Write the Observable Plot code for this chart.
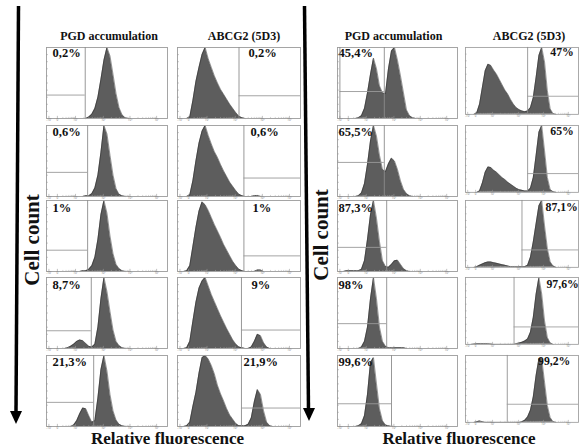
<!DOCTYPE html>
<html><head><meta charset="utf-8">
<script src="https://cdn.jsdelivr.net/npm/d3@7"></script>
<script src="https://cdn.jsdelivr.net/npm/@observablehq/plot@0.6"></script>
<style>
html,body{margin:0;padding:0;background:#fff;}
body{width:579px;height:448px;overflow:hidden;}
#root{position:relative;width:579px;height:448px;overflow:hidden;font-family:"Liberation Serif","Times New Roman",serif;}
.panel{position:absolute;}
.panel svg{overflow:visible;}
#overlay{position:absolute;left:0;top:0;}
.serif{font-family:"Liberation Serif","Times New Roman",serif;}
</style></head><body><div id="root"></div>
<script>
// ---------- DATA (fluorescence channel 0-100, relative cell count 0-100) ----------
// Left group: decreasing PGD accumulation / increasing ABCG2
const pgdL1 = [[32.5,0],[35,2],[37.5,6],[40,14],[42.5,30],[45,55],[47.5,82],[50,100],[52.5,88],[55,62],[57.5,35],[60,15],[62.5,5],[65,1],[67.5,0]];
const pgdL2 = [[30,0],[32.5,1],[35,1],[37.5,4],[40,12],[42.5,30],[45,62],[47.5,100],[50,88],[52.5,58],[55,30],[57.5,11],[60,3],[62.5,1],[65,0]];
const pgdL3 = [[27.5,0],[30,1],[32.5,1],[35,3],[37.5,8],[40,20],[42.5,45],[45,80],[47.5,100],[50,82],[52.5,50],[55,25],[57.5,10],[60,4],[62.5,1],[65,0]];
const pgdL4 = [[15,0],[17.5,1],[20,3],[22.5,6],[25,10],[27.5,12],[30,11],[32.5,7],[35,3],[37.5,2],[40,6],[42.5,30],[45,70],[47.5,100],[50,80],[52.5,52],[55,26],[57.5,10],[60,4],[62.5,1],[65,0]];
const pgdL5 = [[20,0],[22.5,2],[25,8],[27.5,18],[30,26],[32.5,25],[35,15],[37.5,6],[40,8],[42.5,40],[45,80],[47.5,100],[50,78],[52.5,45],[55,22],[57.5,9],[60,3],[62.5,1],[65,0]];

const abcL1 = [[7.5,0],[10,2],[12.5,25],[15,52],[17.5,72],[20,90],[22.5,100],[25,84],[27.5,72],[30,60],[32.5,50],[35,41],[37.5,34],[40,27],[42.5,20],[45,14],[47.5,8],[50,3],[52.5,1],[55,0]];
const abcL2 = [[7.5,0],[10,2],[12.5,22],[15,50],[17.5,75],[20,92],[22.5,100],[25,86],[27.5,74],[30,63],[32.5,55],[35,45],[37.5,36],[40,28],[42.5,20],[45,14],[47.5,8],[50,3],[52.5,1],[55,0],[60,0],[62.5,1],[65,1.5],[67.5,0]];
const abcL3 = [[5,0],[7.5,1],[10,8],[12.5,35],[15,62],[17.5,85],[20,98],[22.5,94],[25,86],[27.5,76],[30,66],[32.5,57],[35,48],[37.5,38],[40,30],[42.5,22],[45,14],[47.5,8],[50,3],[52.5,1],[55,0],[62.5,0],[65,2],[67.5,2],[70,0]];
const abcL4 = [[5,0],[7.5,1],[10,10],[12.5,38],[15,65],[17.5,85],[20,95],[22.5,100],[25,88],[27.5,76],[30,66],[32.5,56],[35,46],[37.5,37],[40,28],[42.5,20],[45,12],[47.5,6],[50,2],[52.5,1],[55,0],[57.5,0],[60,2],[62.5,10],[65,20],[67.5,18],[70,8],[72.5,2],[75,0]];
const abcL5 = [[5,0],[7.5,1],[10,6],[12.5,28],[15,48],[17.5,75],[20,97],[22.5,100],[25,95],[27.5,86],[30,74],[32.5,58],[35,46],[37.5,36],[40,25],[42.5,16],[45,10],[47.5,4],[50,1],[52.5,1],[55,1],[57.5,3],[60,12],[62.5,35],[65,52],[67.5,45],[70,22],[72.5,6],[75,1],[77.5,0]];

// Right group
const pgdR1 = [[15,0],[17.5,1],[20,4],[22.5,14],[25,36],[27.5,62],[30,85],[32.5,70],[35,46],[37.5,36],[40,35],[42.5,70],[45,95],[47.5,100],[50,82],[52.5,60],[55,36],[57.5,12],[60,4],[62.5,1],[65,0]];
const pgdR2 = [[15,0],[17.5,1],[20,5],[22.5,18],[25,45],[27.5,78],[30,100],[32.5,85],[35,58],[37.5,38],[40,35],[42.5,46],[45,54],[47.5,50],[50,38],[52.5,22],[55,10],[57.5,4],[60,1],[62.5,0]];
const pgdR3 = [[5,0],[7.5,1],[15,1],[17.5,1],[20,3],[22.5,15],[25,45],[27.5,80],[30,100],[32.5,75],[35,42],[37.5,15],[40,7],[42.5,6],[45,10],[47.5,15],[50,16],[52.5,10],[55,4],[57.5,1],[60,0]];
const pgdR4 = [[17.5,0],[20,2],[22.5,10],[25,30],[27.5,70],[30,100],[32.5,70],[35,30],[37.5,10],[40,3],[42.5,1],[55,1],[57.5,0]];
const pgdR5 = [[15,0],[17.5,1],[20,4],[22.5,15],[25,45],[27.5,90],[30,97],[32.5,60],[35,25],[37.5,8],[40,2],[42.5,1],[45,0]];

const abcR1 = [[7.5,0],[10,2],[12.5,15],[15,40],[17.5,65],[20,75],[22.5,73],[25,66],[27.5,60],[30,52],[32.5,44],[35,36],[37.5,30],[40,22],[42.5,15],[45,10],[47.5,7],[50,5],[52.5,4],[55,5],[57.5,10],[60,25],[62.5,55],[65,88],[67.5,100],[70,78],[72.5,35],[75,8],[77.5,1],[80,0]];
const abcR2 = [[10,0],[12.5,2],[15,14],[17.5,30],[20,38],[22.5,37],[25,33],[27.5,30],[30,26],[32.5,22],[35,19],[37.5,15],[40,12],[42.5,9],[45,6],[47.5,4],[50,3],[52.5,2],[55,2],[57.5,6],[60,22],[62.5,55],[65,90],[67.5,100],[70,62],[72.5,22],[75,4],[77.5,1],[80,0]];
const abcR3 = [[7.5,0],[10,1],[12.5,3],[15,5],[17.5,7],[20,8],[22.5,8],[25,7],[27.5,6],[30,5],[32.5,4],[35,3],[37.5,2],[40,1],[50,1],[52.5,1],[55,3],[57.5,15],[60,38],[62.5,65],[65,92],[67.5,100],[70,62],[72.5,28],[75,8],[77.5,2],[80,0]];
const abcR4 = [[5,0],[10,1],[20,1],[25,0],[42.5,0],[45,1],[47.5,2],[50,3],[52.5,5],[55,8],[57.5,18],[60,40],[62.5,75],[65,100],[67.5,75],[70,35],[72.5,10],[75,2],[77.5,0]];
const abcR5 = [[7.5,0],[10,1],[12.5,2],[15,1],[17.5,0],[47.5,0],[50,1],[52.5,3],[55,8],[57.5,18],[60,38],[62.5,70],[65,95],[67.5,95],[70,60],[72.5,25],[75,7],[77.5,1],[80,0]];

// Gate positions (channel) and marker levels (count) per row
const gatePgdL = [32, 34, 34, 37, 39];
const markPgdL = [33, 34, 30, 25, 34];
const gateAbcL = [50, 54, 54, 52, 52];
const markAbcL = [32, 26, 22, 26, 26];
const gatePgdR = [39, 39, 41, 41, 45];
const markPgdR = [38, 48, 34, 35, 32];
const gateAbcR = [55, 55, 50, 43, 37];
const markAbcR = [27, 28, 26, 26, 27];

// Percent labels
const pctPgdL = ["0,2%", "0,6%", "1%", "8,7%", "21,3%"];
const pctAbcL = ["0,2%", "0,6%", "1%", "9%", "21,9%"];
const pctPgdR = ["45,4%", "65,5%", "87,3%", "98%", "99,6%"];
const pctAbcR = ["47%", "65%", "87,1%", "97,6%", "99,2%"];

// Axis tick labels (biexponential axis, channel positions)
const xTickPos = [2, 9, 24, 47, 69, 91];
const xTickLab = ["-10²", "0", "10²", "10³", "10⁴", "10⁵"];
const yTickPos = [10, 20, 30, 40, 50, 60, 70, 80, 90];

// ---------- LAYOUT ----------
const serif = "'Liberation Serif', 'Times New Roman', serif";
const rowTops = [47, 125, 200, 277, 355];
const H = 71;
const groups = [
  {cols: [
    {L: 46, W: 121, series: [pgdL1,pgdL2,pgdL3,pgdL4,pgdL5], gates: gatePgdL, marks: markPgdL, pct: pctPgdL, side: "left", labelDx: [6,6,6,6,6]},
    {L: 177, W: 123, series: [abcL1,abcL2,abcL3,abcL4,abcL5], gates: gateAbcL, marks: markAbcL, pct: pctAbcL, side: "right", labelDx: [71,73,75,74,66]}
  ]},
  {cols: [
    {L: 337, W: 120, series: [pgdR1,pgdR2,pgdR3,pgdR4,pgdR5], gates: gatePgdR, marks: markPgdR, pct: pctPgdR, side: "left", labelDx: [1,1,1,1,1], leftGate: [2,null,null,null,null]},
    {L: 465, W: 120, series: [abcR1,abcR2,abcR3,abcR4,abcR5], gates: gateAbcR, marks: markAbcR, pct: pctAbcR, side: "right", labelDx: [90,90,85,86,77]}
  ]}
];
const labelDy = [0.5, 1.5, 2.5, 2.5, 1.5];

const minorTicks = [];
[[9,24],[24,47],[47,69],[69,91]].forEach(([a,b]) => {
  for (let k = 2; k <= 9; k++) minorTicks.push(a + (b - a) * Math.log10(k));
});

const root = document.getElementById("root");

function makePanel(col, r) {
  const data = col.series[r];
  const gate = col.gates[r];
  const mk = col.marks[r];
  const x1 = col.side === "left" ? (col.leftGate && col.leftGate[r] != null ? col.leftGate[r] : 0) : gate;
  const x2 = col.side === "left" ? gate : 100;
  const ticks = xTickPos.map((p, i) => ({p, lab: xTickLab[i]}));
  const marks = [
    Plot.areaY(data, {x: d => d[0], y: d => d[1], fill: "#5d5d5d", curve: "linear"}),
    Plot.lineY(data, {x: d => d[0], y: d => d[1], stroke: "#2e2e2e", strokeWidth: 0.5, curve: "linear"}),
    Plot.frame({stroke: "#9c9c9c", strokeWidth: 0.9}),
    Plot.ruleX([gate], {stroke: "#8c8c8c", strokeWidth: 0.9}),
    Plot.ruleY([mk], {x1: () => x1, x2: () => x2, stroke: "#9a9a9a", strokeWidth: 0.9}),
    Plot.ruleX(xTickPos, {y1: () => 0, y2: () => 3, stroke: "#999", strokeWidth: 0.6}),
    Plot.ruleX(minorTicks, {y1: () => 0, y2: () => 1.5, stroke: "#aaa", strokeWidth: 0.5}),
    Plot.ruleY(yTickPos, {x1: () => 0, x2: () => 1.5, stroke: "#999", strokeWidth: 0.6}),
    Plot.text(ticks, {x: "p", text: "lab", frameAnchor: "bottom", dy: 2.5, fontSize: 3, fill: "#777"}),
    Plot.text([col.pct[r]], {text: d => d, frameAnchor: "top-left", dx: col.labelDx[r], dy: labelDy[r],
      textAnchor: "start", lineAnchor: "top", fontSize: 12.5, fontWeight: "bold", fontFamily: serif, fill: "#111"})
  ];
  if (col.leftGate && col.leftGate[r] != null) {
    marks.push(Plot.ruleX([col.leftGate[r]], {stroke: "#8c8c8c", strokeWidth: 0.9}));
  }
  const svg = Plot.plot({
    width: col.W + 2, height: H + 8,
    marginLeft: 1, marginRight: 1, marginTop: 1, marginBottom: 7,
    x: {domain: [0, 100], axis: null},
    y: {domain: [0, 100], axis: null},
    style: {background: "transparent", overflow: "visible"},
    marks
  });
  const div = document.createElement("div");
  div.className = "panel";
  div.style.left = (col.L - 1) + "px";
  div.style.top = (rowTops[r] - 1) + "px";
  div.appendChild(svg);
  root.appendChild(div);
}

groups.forEach(g => g.cols.forEach(col => rowTops.forEach((_, r) => makePanel(col, r))));

// ---------- Annotations ----------
const ov = d3.select(root).append("svg").attr("id", "overlay").attr("width", 579).attr("height", 448);
const titles = [
  {t: "PGD accumulation", x: 109, y: 40},
  {t: "ABCG2 (5D3)", x: 244, y: 40},
  {t: "PGD accumulation", x: 393.5, y: 40},
  {t: "ABCG2 (5D3)", x: 529, y: 40}
];
ov.selectAll("text.title").data(titles).join("text").attr("class", "title serif")
  .attr("x", d => d.x).attr("y", d => d.y).attr("text-anchor", "middle")
  .style("font-family", serif).style("font-weight", "bold").style("font-size", "12px").attr("fill", "#111")
  .text(d => d.t);

const xlabels = [{x: 167.5}, {x: 459}];
ov.selectAll("text.xl").data(xlabels).join("text").attr("class", "xl serif")
  .attr("x", d => d.x).attr("y", 443.5).attr("text-anchor", "middle")
  .style("font-family", serif).style("font-weight", "bold").style("font-size", "17px").attr("fill", "#111")
  .text("Relative fluorescence");

const ylabels = [{x: 39, y: 240}, {x: 328, y: 235}];
ov.selectAll("text.yl").data(ylabels).join("text").attr("class", "yl serif")
  .attr("transform", d => `translate(${d.x},${d.y}) rotate(-90)`).attr("text-anchor", "middle")
  .style("font-family", serif).style("font-weight", "bold").style("font-size", "21px").attr("fill", "#111")
  .text("Cell count");

const arrows = [
  {x0: 18.5, y0: 6, x1: 16, y1: 412, hx: 16, hy: 411, tip: 424},
  {x0: 304.5, y0: 6, x1: 308.5, y1: 410, hx: 309, hy: 408, tip: 421}
];
arrows.forEach(a => {
  ov.append("line").attr("x1", a.x0).attr("y1", a.y0).attr("x2", a.x1).attr("y2", a.y1)
    .attr("stroke", "#000").attr("stroke-width", 3.5);
  ov.append("polygon").attr("points", `${a.hx-6},${a.hy} ${a.hx+6},${a.hy} ${a.hx},${a.tip}`).attr("fill", "#000");
});
</script>
</body></html>
